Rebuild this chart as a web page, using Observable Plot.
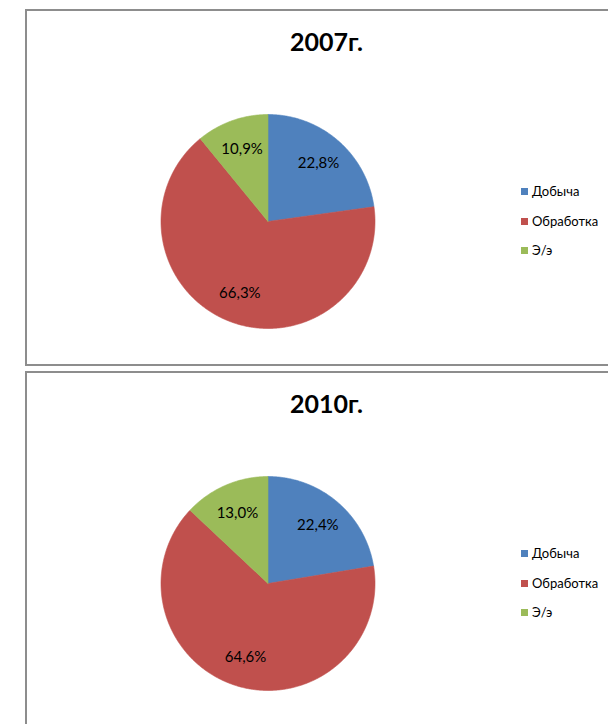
<!DOCTYPE html>
<html><head><meta charset="utf-8">
<script src="https://cdn.jsdelivr.net/npm/d3@7"></script>
<script src="https://cdn.jsdelivr.net/npm/@observablehq/plot@0.6"></script>
<style>
html,body{margin:0;padding:0;background:#fff;width:608px;height:724px;overflow:hidden;font-family:Lato,"Open Sans",sans-serif;}
.panel{position:absolute;left:25px;width:602px;box-sizing:border-box;border:2px solid #8d8d8d;background:#fff;overflow:hidden;}
.panel svg{position:absolute;left:0;top:0;}
.legend{position:absolute;left:494px;top:0;font-size:13px;color:#000;}
.item{position:absolute;left:0;white-space:nowrap;height:16px;line-height:16px;}
.sw{position:absolute;left:0;top:5px;width:7px;height:7px;}
.lt{position:absolute;left:11px;top:0;}
</style>
</head><body>
<div id="root"></div>
<script>
const categories = ["Добыча", "Обработка", "Э/э"];
const colors = ["#4F81BD", "#C0504D", "#9BBB59"];
const years = ["2007г.", "2010г."];
const shares2007 = [22.8, 66.3, 10.9];
const shares2010 = [22.4, 64.6, 13.0];
const seriesValues = [shares2007, shares2010];

const panelTops = [9, 371];
const panelHeights = [357, 360];
const W = 598, H = 356;   // inner svg size
const cx = 240.5, cy = 210, R = 107;   // pie centre & radius in px
const labelR = 0.72;

const root = document.getElementById("root");

function fmt(v){ return v.toFixed(1).replace(".", ",") + "%"; }

years.forEach((title, i) => {
  const vals = seriesValues[i];
  const data = categories.map((c, k) => ({name: c, value: vals[k]}));
  const arcs = d3.pie().sort(null).value(d => d.value)(data);

  // polygon outline of each slice (angle clockwise from 12 o'clock)
  const pts = [];
  arcs.forEach(a => {
    const name = a.data.name;
    pts.push({name, x: 0, y: 0});
    const n = Math.max(2, Math.ceil((a.endAngle - a.startAngle) / (Math.PI / 360)));
    for (let j = 0; j <= n; j++) {
      const t = a.startAngle + (a.endAngle - a.startAngle) * j / n;
      pts.push({name, x: Math.sin(t), y: Math.cos(t)});
    }
    pts.push({name, x: 0, y: 0});
  });
  const labels = arcs.map(a => {
    const m = (a.startAngle + a.endAngle) / 2;
    return {name: a.data.name, x: labelR * Math.sin(m), y: labelR * Math.cos(m), text: fmt(a.data.value)};
  });

  const chart = Plot.plot({
    width: W, height: H,
    margin: 0,
    x: {domain: [-cx / R, (W - cx) / R], axis: null},
    y: {domain: [-(H - cy) / R, cy / R], axis: null},
    color: {domain: categories, range: colors},
    style: {fontFamily: "Lato, 'Open Sans', sans-serif", background: "white"},
    marks: [
      Plot.line(pts, {x: "x", y: "y", z: "name", fill: "name", stroke: "name", strokeWidth: 0.6, curve: "linear"}),
      Plot.text(labels, {x: "x", y: "y", text: "text", fontSize: 15, fill: "#000"}),
      Plot.text([title], {text: d => d, frameAnchor: "top", lineAnchor: "middle", dy: 31, fontSize: 25, fontWeight: "bold", fill: "#000"})
    ]
  });

  const panel = document.createElement("div");
  panel.className = "panel";
  panel.style.top = panelTops[i] + "px";
  panel.style.height = panelHeights[i] + "px";
  panel.appendChild(chart);

  const legend = document.createElement("div");
  legend.className = "legend";
  categories.forEach((c, k) => {
    const it = document.createElement("div");
    it.className = "item";
    it.style.top = (cy - 29.3 + 29.3 * k - 8.5) + "px";
    const sw = document.createElement("span");
    sw.className = "sw";
    sw.style.background = colors[k];
    const lt = document.createElement("span");
    lt.className = "lt";
    lt.textContent = c;
    it.appendChild(sw); it.appendChild(lt);
    legend.appendChild(it);
  });
  panel.appendChild(legend);
  root.appendChild(panel);
});
</script>
</body></html>
